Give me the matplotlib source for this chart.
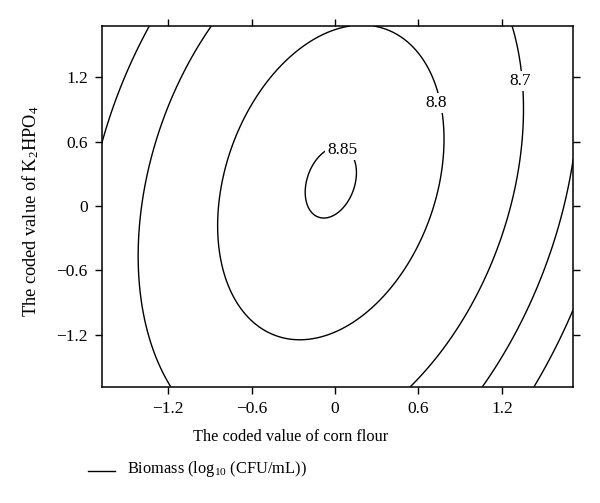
import numpy as np
import matplotlib
matplotlib.use("Agg")
import matplotlib.pyplot as plt
from matplotlib.lines import Line2D

# ---- data ----
x_ticks = [-1.2, -0.6, 0, 0.6, 1.2]          # coded value of corn flour
y_ticks = [-1.2, -0.6, 0, 0.6, 1.2]          # coded value of K2HPO4
tick_labels = ['\u22121.2', '\u22120.6', '0', '0.6', '1.2']
x_range = [-1.678, 1.714]
y_range = [-1.684, 1.678]
levels = [8.5, 8.6, 8.7, 8.8, 8.85]
label_levels = [8.7, 8.8, 8.85]
label_x = [1.33, 0.73, 0.05]
label_y = [1.165, 0.96, 0.52]

# quadratic response surface (canonical form) estimated from the contours
center_x = -0.03
center_y = 0.22
z_max = 8.8527
coef_uu = 0.086
coef_vv = 0.0265
coef_uv = 0.0262

plt.rcParams['font.family'] = ['Liberation Serif', 'DejaVu Serif']
plt.rcParams['mathtext.fontset'] = 'custom'
plt.rcParams['mathtext.rm'] = 'Liberation Serif'
plt.rcParams['mathtext.it'] = 'Liberation Serif:italic'

fig = plt.figure(figsize=(6.0, 5.03), dpi=100)
ax = fig.add_axes([0.1695, 0.2312, 0.786, 0.7171])

gx = np.linspace(x_range[0], x_range[1], 500)
gy = np.linspace(y_range[0], y_range[1], 500)
X, Y = np.meshgrid(gx, gy)
U = X - center_x
V = Y - center_y
Z = z_max - coef_uu * U**2 - coef_vv * V**2 + coef_uv * U * V

cs = ax.contour(X, Y, Z, levels=levels, colors='black', linewidths=1.0)
for lv, lx, ly in zip(label_levels, label_x, label_y):
    ax.text(lx, ly, f'{lv:g}', ha='center', va='center', fontsize=12.5,
            bbox=dict(facecolor='white', edgecolor='none', pad=1.5), zorder=5)

ax.set_xlim(x_range)
ax.set_ylim(y_range)
ax.set_xticks(x_ticks)
ax.set_yticks(y_ticks)
ax.set_xticklabels(tick_labels, fontsize=12.5)
ax.set_yticklabels(tick_labels, fontsize=12.5)
ax.tick_params(direction='out', length=5, width=1.0, top=True, right=True,
               labeltop=False, labelright=False, pad=5)
for s in ax.spines.values():
    s.set_linewidth(1.1)

fig.text(291 / 600, 1 - 437 / 503, 'The coded value of corn flour',
         ha='center', va='center', fontsize=11.8)
fig.text(31 / 600, 1 - 211 / 503, r'The coded value of K$_2$HPO$_4$',
         ha='center', va='center', rotation=90, fontsize=13.2)

# legend below the plot
fig.add_artist(Line2D([88 / 600, 115 / 600], [1 - 470.5 / 503, 1 - 470.5 / 503],
                      color='black', linewidth=1.0))
fig.text(127 / 600, 1 - 469 / 503, r'Biomass (log$_{10}$ (CFU/mL))',
         ha='left', va='center', fontsize=11.8)

fig.savefig('out.png', dpi=100)
